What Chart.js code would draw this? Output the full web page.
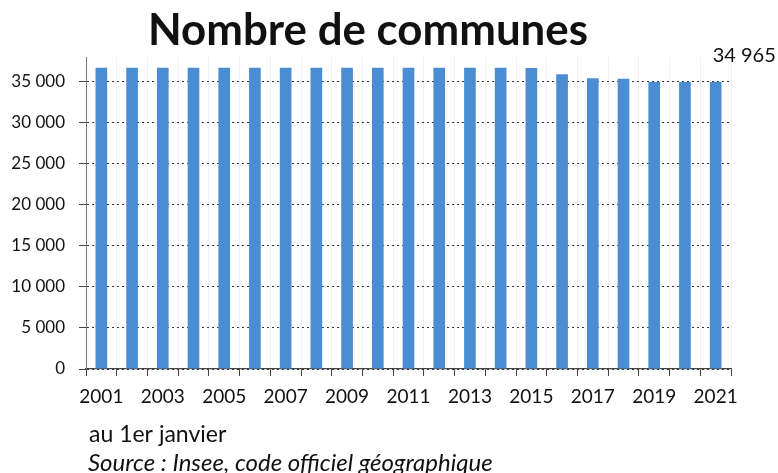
<!DOCTYPE html>
<html lang="fr">
<head>
<meta charset="utf-8">
<script src="https://cdn.jsdelivr.net/npm/chart.js@4.4.0/dist/chart.umd.min.js"></script>
<style>
  html, body { margin: 0; padding: 0; background: #fff; }
  #wrap { width: 778px; height: 473px; position: relative; }
</style>
</head>
<body>
<div id="wrap"><canvas id="graphCommunes"></canvas></div>
<script>
// Données : nombre de communes au 1er janvier
const annees = ['2001','2002','2003','2004','2005','2006','2007','2008','2009','2010','2011',
                '2012','2013','2014','2015','2016','2017','2018','2019','2020','2021'];
const communes = [36679, 36679, 36679, 36681, 36685, 36685, 36685, 36682, 36682, 36682, 36680,
                  36700, 36681, 36681, 36658, 35885, 35416, 35357, 34970, 34968, 34965];
const ticksY = [0, 5000, 10000, 15000, 20000, 25000, 30000, 35000];

const titre = 'Nombre de communes';
const note = 'au 1er janvier';
const source = 'Source : Insee, code officiel géographique';

const fmt = (n) => n.toLocaleString('fr-FR').replace(/\s/g, ' ');

// Textes autour du graphique (titre, étiquette de la dernière barre, notes)
const textesPlugin = {
    id: 'textes',
    afterDraw(chart) {
        const ctx = chart.ctx;
        const area = chart.chartArea;
        ctx.save();
        ctx.fillStyle = '#111';
        ctx.textBaseline = 'alphabetic';

        ctx.font = 'bold 44px Lato';
        ctx.textAlign = 'center';
        ctx.fillText(titre, 368, 45, 440);

        const meta = chart.getDatasetMeta(0);
        const last = meta.data[meta.data.length - 1];
        ctx.font = '20px Lato';
        ctx.textAlign = 'left';
        ctx.fillText(fmt(communes[communes.length - 1]), last.x - 3, last.y - 20, 64);

        ctx.font = '23px Lato';
        ctx.fillText(note, area.left + 3, 442, 142);
        ctx.font = 'italic 24px Lato';
        ctx.fillText(source, area.left + 2, 471, 430);
        ctx.restore();
    }
};

new Chart(document.getElementById('graphCommunes'), {
    type: 'bar',
    data: {
        labels: annees,
        datasets: [{
            data: communes,
            backgroundColor: '#4a8dd2',
            barPercentage: 0.38,
            categoryPercentage: 1.0
        }]
    },
    options: {
        responsive: true,
        maintainAspectRatio: false,
        animation: false,
        layout: { padding: { top: 57, right: 47, bottom: 64, left: 0 } },
        plugins: {
            legend: { display: false },
            tooltip: { enabled: false }
        },
        scales: {
            x: {
                afterFit: (scale) => { scale.height = 40; },
                grid: { offset: true, drawOnChartArea: true, color: '#f1f1f1', tickLength: 7, tickColor: '#444' },
                border: { display: true, color: '#444', width: 1.2 },
                ticks: {
                    autoSkip: false,
                    maxRotation: 0,
                    padding: 9,
                    color: '#111',
                    font: { family: 'Lato', size: 19 },
                    callback: (v, i) => (i % 2 === 0 ? annees[i] : '')
                }
            },
            y: {
                min: 0,
                max: 38000,
                afterFit: (scale) => { scale.width = 86; },
                afterBuildTicks: (scale) => { scale.ticks = ticksY.map(v => ({ value: v })); },
                grid: { color: '#333', tickLength: 7, tickColor: '#444', lineWidth: 1 },
                border: { display: true, color: '#777', width: 1, dash: [2, 3] },
                ticks: {
                    padding: 14,
                    color: '#111',
                    font: { family: 'Lato', size: 17 },
                    callback: (v) => fmt(v)
                }
            }
        }
    },
    plugins: [textesPlugin]
});
</script>
</body>
</html>
